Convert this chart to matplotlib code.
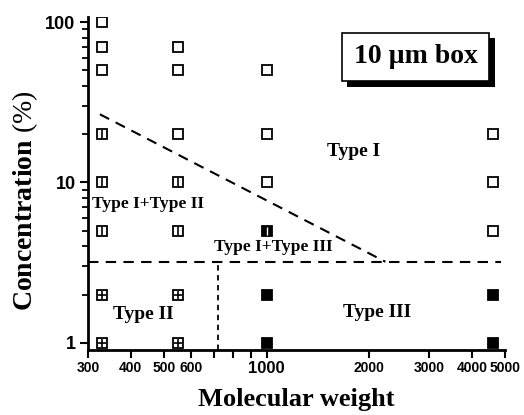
import matplotlib
matplotlib.use("Agg")
import matplotlib.pyplot as plt
import matplotlib.patheffects as pe
from matplotlib.ticker import FixedLocator, NullFormatter, LogLocator

plt.rcParams['mathtext.fontset'] = 'custom'
plt.rcParams['mathtext.rm'] = 'Liberation Serif'

# data points (molecular weight, concentration %) by observed type
type1_mw = [330, 330, 330, 550, 550, 550, 1000, 1000, 1000, 4600, 4600, 4600]
type1_c = [100, 70, 50, 70, 50, 20, 50, 20, 10, 20, 10, 5]
type12_mw = [330, 330, 330, 550, 550]
type12_c = [20, 10, 5, 10, 5]
type2_mw = [330, 330, 550, 550]
type2_c = [2, 1, 2, 1]
type13_mw = [1000]
type13_c = [5]
type3_mw = [1000, 1000, 4600, 4600]
type3_c = [2, 1, 2, 1]

# boundary lines
diag_mw = [325, 2230]
diag_c = [26.6, 3.2]
horiz_mw = [300, 4850]
horiz_c = [3.2, 3.2]
vert_mw = [720, 720]
vert_c = [0.9, 3.2]

xticks = [300, 400, 500, 600, 700, 800, 900, 1000, 2000, 3000, 4000, 5000]
xticklabels = ['300', '400', '500', '600', '', '', '', '1000', '2000', '3000', '4000', '5000']

fig = plt.figure(figsize=(5.24, 4.15), dpi=100)
ax = fig.add_axes([0.168, 0.157, 0.796, 0.802])
ax.set_xscale('log')
ax.set_yscale('log')
ax.set_xlim(300, 5000)
ax.set_ylim(0.904, 107.5)

ms = 6.5
mew = 1.3
ax.plot(type1_mw, type1_c, 's', ms=ms, mfc='white', mec='black', mew=mew)
ax.plot(type12_mw, type12_c, 's', ms=ms, mfc='white', mec='black', mew=mew)
ax.plot(type12_mw, type12_c, '|', ms=ms * 0.9, mec='black', mew=1.2)
ax.plot(type2_mw, type2_c, 's', ms=ms, mfc='white', mec='black', mew=mew)
ax.plot(type2_mw, type2_c, '+', ms=ms * 0.9, mec='black', mew=1.2)
ax.plot(type13_mw, type13_c, 's', ms=ms, mfc='black', mec='black', mew=mew)
ax.plot(type13_mw, type13_c, '|', ms=ms * 0.8, mec='white', mew=1.0)
ax.plot(type3_mw, type3_c, 's', ms=ms + 1, mfc='black', mec='black', mew=mew)

ax.plot(diag_mw, diag_c, color='black', lw=1.5, dashes=(5, 3.5))
ax.plot(horiz_mw, horiz_c, color='black', lw=1.5, dashes=(5, 3.5))
ax.plot(vert_mw, vert_c, color='black', lw=1.3, dashes=(3, 2.5))

tfont = dict(family='Liberation Serif', weight='bold', color='black')
ax.text(1800, 15.6, 'Type I', ha='center', va='center', fontsize=14, **tfont)
ax.text(451, 7.3, 'Type I+Type II', ha='center', va='center', fontsize=12.5, **tfont)
ax.text(1050, 3.93, 'Type I+Type III', ha='center', va='center', fontsize=12.5, **tfont)
ax.text(435, 1.5, 'Type II', ha='center', va='center', fontsize=14, **tfont)
ax.text(2110, 1.54, 'Type III', ha='center', va='center', fontsize=14, **tfont)

box = ax.text(0.785, 0.88, '10 \u00b5m box', transform=ax.transAxes, ha='center', va='center',
              fontsize=20, bbox=dict(boxstyle='square,pad=0.42', fc='white', ec='black', lw=1.2), **tfont)
box.get_bbox_patch().set_path_effects([pe.SimplePatchShadow(offset=(4, -4), shadow_rgbFace='black', alpha=1),
                                       pe.Normal()])

for s in ['top', 'right']:
    ax.spines[s].set_visible(False)
for s in ['left', 'bottom']:
    ax.spines[s].set_linewidth(2)

ax.xaxis.set_major_locator(FixedLocator(xticks))
ax.xaxis.set_minor_locator(FixedLocator([]))
ax.set_xticklabels(xticklabels)
ax.xaxis.set_minor_formatter(NullFormatter())
for lab in ax.get_xticklabels():
    lab.set_fontfamily('Liberation Sans')
    lab.set_fontweight('bold')
    lab.set_fontsize(12 if lab.get_text() == '1000' else 10)

ax.yaxis.set_major_locator(FixedLocator([1, 10, 100]))
ax.yaxis.set_minor_locator(LogLocator(base=10, subs=range(2, 10)))
ax.yaxis.set_minor_formatter(NullFormatter())
ax.set_yticklabels(['1', '10', '100'], fontfamily='Liberation Sans', fontweight='bold', fontsize=13)

ax.tick_params(axis='both', which='major', direction='out', length=6, width=1.5)
ax.tick_params(axis='both', which='minor', direction='out', length=4, width=1.3)
ax.tick_params(axis='x', pad=2)
ax.tick_params(axis='y', pad=3)

ax.set_xlabel('Molecular weight', fontsize=19, labelpad=9, **tfont)
ax.set_ylabel(r'Concentration $\mathrm{(\%)}$', fontsize=20, va='center', **tfont)
ax.yaxis.set_label_coords(-0.151, 0.447)

fig.savefig('out.png', dpi=100)
